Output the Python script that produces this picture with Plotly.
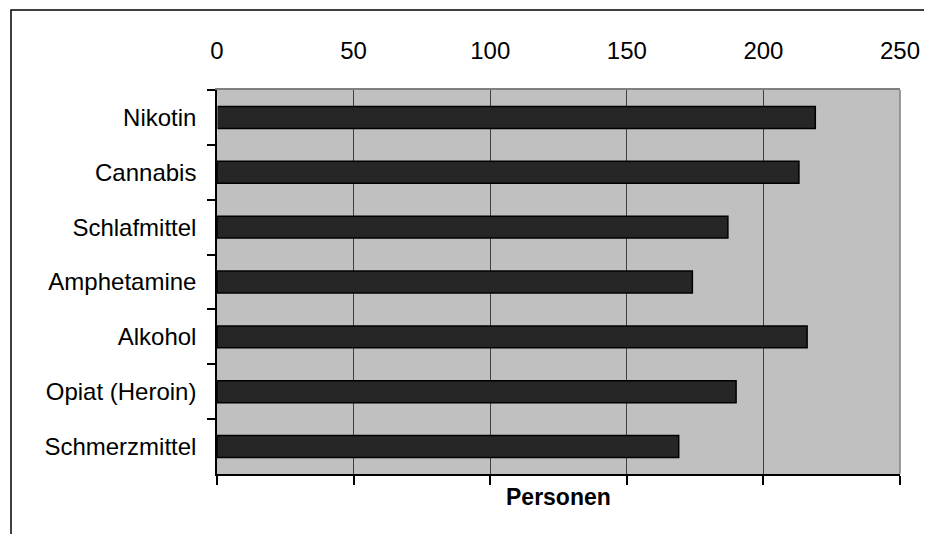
import plotly.graph_objects as go

categories = ["Nikotin", "Cannabis", "Schlafmittel", "Amphetamine", "Alkohol", "Opiat (Heroin)", "Schmerzmittel"]
values = [219, 213, 187, 174, 216, 190, 169]
tick_vals = [0, 50, 100, 150, 200, 250]
tick_text = ["0", "50", "100", "150", "200", "250"]
axis_title = "Personen"

FONT = "Liberation Sans, Arial, sans-serif"

# page body adds an 8px margin; figure sized to fit the 932x534 window
W, H = 924, 526
L, T, R, B = 209, 82, 32, 60
PW, PH = W - L - R, H - T - B

fig = go.Figure()
fig.add_trace(go.Bar(
    x=values, y=categories, orientation="h",
    marker=dict(color="#262626", line=dict(color="#000000", width=1.5)),
    width=0.4, showlegend=False, xaxis="x", yaxis="y",
))
# invisible trace to activate top axis
fig.add_trace(go.Bar(
    x=[0], y=[categories[0]], orientation="h", xaxis="x2", yaxis="y",
    marker=dict(color="rgba(0,0,0,0)"), showlegend=False, hoverinfo="skip",
))

fig.update_layout(
    width=W, height=H,
    margin=dict(l=L, r=R, t=T, b=B),
    paper_bgcolor="white",
    plot_bgcolor="#c0c0c0",
    font=dict(family=FONT, size=24, color="black"),
    barmode="overlay",
    xaxis=dict(
        range=[0, 250], tickvals=tick_vals, showticklabels=False,
        ticks="outside", ticklen=9, tickwidth=1.5, tickcolor="#000000",
        showgrid=True, gridcolor="#404040", gridwidth=1.2,
        showline=True, linecolor="#000000", linewidth=1.5,
        zeroline=False, fixedrange=True,
    ),
    xaxis2=dict(
        range=[0, 250], tickvals=tick_vals, ticktext=tick_text,
        overlaying="x", side="top", ticks="", showgrid=False,
        showline=True, linecolor="#808080", linewidth=1.5,
        ticklabelstandoff=20, zeroline=False,
        tickfont=dict(family=FONT, size=24, color="black"),
    ),
    yaxis=dict(
        categoryorder="array", categoryarray=categories, autorange="reversed",
        ticks="outside", ticklen=8, tickwidth=1.5, tickcolor="#000000",
        tickson="boundaries", showgrid=False,
        showline=True, linecolor="#000000", linewidth=1.5,
        ticklabelstandoff=14,
        tickfont=dict(family=FONT, size=24, color="black"),
    ),
    shapes=[
        dict(type="line", xref="paper", yref="paper", x0=1, x1=1, y0=0, y1=1,
             line=dict(color="#808080", width=1.5)),
        dict(type="rect", xref="paper", yref="paper",
             x0=-(L - 3) / PW, x1=1.2, y0=-1.0, y1=1 + (T - 2) / PH,
             line=dict(color="#000000", width=1.5), fillcolor="rgba(0,0,0,0)",
             layer="below"),
    ],
    annotations=[
        dict(text=f"<b>{axis_title}</b>", xref="paper", yref="paper",
             x=0.5, y=-8 / PH, xanchor="center", yanchor="top", showarrow=False,
             font=dict(family=FONT, size=23, color="black")),
    ],
)

fig.write_html("out.html")
